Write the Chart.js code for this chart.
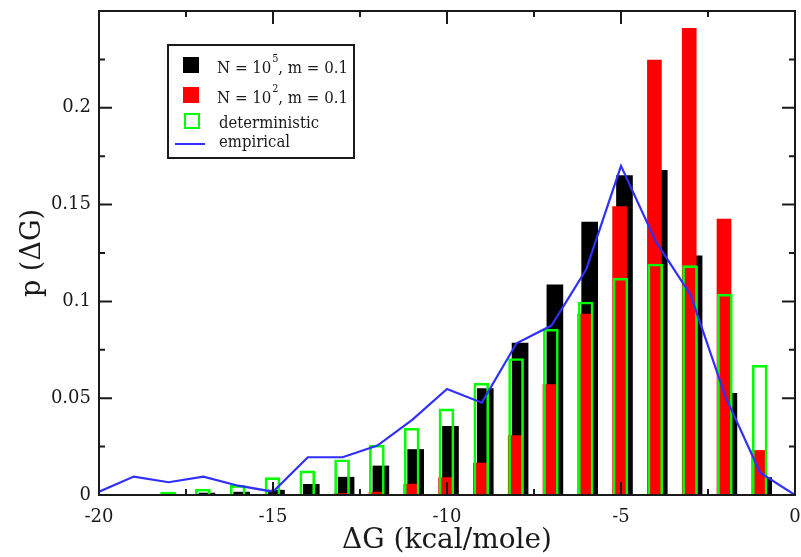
<!DOCTYPE html>
<html>
<head>
<meta charset="utf-8">
<script src="https://cdn.jsdelivr.net/npm/chart.js@4.4.1/dist/chart.umd.min.js"></script>
<style>
  html, body { margin: 0; padding: 0; background: #ffffff; }
  #wrap { width: 801px; height: 557px; }
</style>
</head>
<body>
<div id="wrap"><canvas id="c" width="801" height="557"></canvas></div>
<script>
// ---------------- data ----------------
const binCenters = [-18, -17, -16, -15, -14, -13, -12, -11, -10, -9, -8, -7, -6, -5, -4, -3, -2, -1];
const stochasticN5 = [0, 0.001, 0.0015, 0.0025, 0.0055, 0.0092, 0.015, 0.0235, 0.0355, 0.055, 0.0785, 0.1085, 0.141, 0.165, 0.1677, 0.1235, 0.0525, 0.009];
const stochasticN2 = [0, 0, 0, 0, 0, 0.0008, 0.0015, 0.0056, 0.009, 0.0165, 0.0307, 0.057, 0.0935, 0.149, 0.2247, 0.241, 0.1425, 0.023];
const deterministic = [0.0015, 0.003, 0.005, 0.009, 0.0125, 0.0182, 0.0258, 0.0345, 0.0445, 0.0578, 0.0705, 0.0857, 0.0997, 0.112, 0.1193, 0.1185, 0.1037, 0.067];
const empiricalX = [-20, -19, -18, -17, -16, -15, -14, -13, -12, -11, -10, -9, -8, -7, -6, -5, -4, -3, -2, -1, 0];
const empiricalY = [0.0017, 0.0095, 0.0066, 0.0095, 0.0048, 0.0017, 0.0195, 0.0195, 0.0255, 0.0388, 0.0548, 0.0477, 0.0784, 0.0875, 0.1165, 0.170, 0.131, 0.1033, 0.0508, 0.0115, 0];
const xTickValues = [-20, -15, -10, -5, 0];
const yTickValues = [0, 0.05, 0.1, 0.15, 0.2];
const yTickLabels = ['0', '0.05', '0.1', '0.15', '0.2'];
const seriesNames = ['N = 10^5, m = 0.1', 'N = 10^2, m = 0.1', 'deterministic', 'empirical'];
const xTitle = 'ΔG (kcal/mole)';
const yTitle = 'p (ΔG)';

// ---------------- styling ----------------
const FONT = 'DejaVu Serif';
const INK = '#1a1a1a';
const COL_BLACK = '#000000', COL_RED = '#ff0000', COL_GREEN = '#00ff00', COL_BLUE = '#2f2fff';

function pts(xs, ys, shift) { return xs.map((x, i) => ({ x: x + (shift || 0), y: ys[i] })); }
function noEdgePadding(s) { s.paddingLeft = 0; s.paddingRight = 0; s.paddingTop = 0; s.paddingBottom = 0; }

// frame + inward major/minor ticks on all four sides
const framePlugin = {
  id: 'frame',
  afterDraw(chart) {
    const { ctx, chartArea: a, scales: { x, y } } = chart;
    ctx.save();
    ctx.strokeStyle = INK;
    ctx.lineWidth = 2;
    ctx.strokeRect(a.left, a.top, a.right - a.left, a.bottom - a.top);
    const MAJ = 13, MIN = 6;
    ctx.beginPath();
    for (let k = 0; k <= 8; k++) {
      const v = x.min + k * 2.5;
      const px = x.getPixelForValue(v);
      const L = (k % 2 === 0) ? MAJ : MIN;
      ctx.moveTo(px, a.bottom); ctx.lineTo(px, a.bottom - L);
      ctx.moveTo(px, a.top); ctx.lineTo(px, a.top + L);
    }
    for (let k = 0; k <= 10; k++) {
      const v = y.min + k * 0.025;
      const py = y.getPixelForValue(v);
      const L = (k % 2 === 0) ? MAJ : MIN;
      ctx.moveTo(a.left, py); ctx.lineTo(a.left + L, py);
      ctx.moveTo(a.right, py); ctx.lineTo(a.right - L, py);
    }
    ctx.stroke();
    ctx.restore();
  }
};

// boxed legend inside the plot
const boxLegendPlugin = {
  id: 'boxLegend',
  afterDraw(chart) {
    const { ctx, chartArea: a } = chart;
    const bx = a.left + 69, by = a.top + 34, bw = 186, bh = 113;
    ctx.save();
    ctx.fillStyle = '#ffffff';
    ctx.fillRect(bx, by, bw, bh);
    ctx.strokeStyle = INK;
    ctx.lineWidth = 2;
    ctx.strokeRect(bx, by, bw, bh);

    const ds = chart.data.datasets;
    ctx.fillStyle = ds[0].backgroundColor;
    ctx.fillRect(bx + 15, by + 12, 16, 16);
    ctx.fillStyle = ds[1].backgroundColor;
    ctx.fillRect(bx + 15, by + 42, 16, 16);
    ctx.strokeStyle = ds[2].borderColor;
    ctx.lineWidth = 2;
    ctx.strokeRect(bx + 17, by + 69, 14, 14);
    ctx.strokeStyle = ds[3].borderColor;
    ctx.lineWidth = 2;
    ctx.beginPath();
    ctx.moveTo(bx + 7, by + 99); ctx.lineTo(bx + 37, by + 99);
    ctx.stroke();

    ctx.fillStyle = INK;
    ctx.textBaseline = 'alphabetic';
    ctx.textAlign = 'left';
    const big = '17px "' + FONT + '"', small = '11px "' + FONT + '"';
    function powerLabel(label, x0, base, target) {
      const m = label.match(/^(.*?)\^(\d+)(.*)$/);
      ctx.font = big; const w1 = ctx.measureText(m[1]).width; const w3 = ctx.measureText(m[3]).width;
      ctx.font = small; const w2 = ctx.measureText(m[2]).width;
      const sx = target / (w1 + w2 + w3 + 1);
      ctx.save();
      ctx.translate(x0, base); ctx.scale(sx, 1);
      ctx.font = big; ctx.fillText(m[1], 0, 0);
      ctx.font = small; ctx.fillText(m[2], w1 + 1, -11);
      ctx.font = big; ctx.fillText(m[3], w1 + w2 + 1, 0);
      ctx.restore();
    }
    function plainLabel(label, x0, base, target) {
      ctx.font = big;
      const w = ctx.measureText(label).width;
      ctx.save();
      ctx.translate(x0, base); ctx.scale(target / w, 1);
      ctx.fillText(label, 0, 0);
      ctx.restore();
    }
    powerLabel(ds[0].label, bx + 49, by + 28, 131);
    powerLabel(ds[1].label, bx + 49, by + 58, 131);
    plainLabel(ds[2].label, bx + 51, by + 83, 100);
    plainLabel(ds[3].label, bx + 51, by + 102, 71);
    ctx.restore();
  }
};

Chart.defaults.font.family = FONT;
Chart.defaults.color = INK;

new Chart(document.getElementById('c'), {
  type: 'bar',
  data: {
    datasets: [
      { type: 'bar', label: seriesNames[0], data: pts(binCenters, stochasticN5, 0.1),
        backgroundColor: COL_BLACK, borderWidth: 0, barThickness: 16, grouped: false, order: 4 },
      { type: 'bar', label: seriesNames[1], data: pts(binCenters, stochasticN2, -0.04),
        backgroundColor: COL_RED, borderWidth: 0, barThickness: 14, grouped: false, order: 3 },
      { type: 'bar', label: seriesNames[2], data: pts(binCenters, deterministic, -0.015),
        backgroundColor: 'rgba(0,0,0,0)', borderColor: COL_GREEN, borderWidth: 2,
        barThickness: 15, grouped: false, order: 2 },
      { type: 'line', label: seriesNames[3], data: pts(empiricalX, empiricalY),
        borderColor: COL_BLUE, backgroundColor: COL_BLUE, borderWidth: 2.2, pointRadius: 0,
        tension: 0, fill: false, order: 1 }
    ]
  },
  options: {
    responsive: false,
    animation: false,
    devicePixelRatio: 1,
    layout: { padding: { left: 0, right: 6, top: 11, bottom: 0 } },
    plugins: { legend: { display: false }, tooltip: { enabled: false } },
    scales: {
      x: {
        type: 'linear', min: -20, max: 0, offset: false,
        grid: { display: false, drawTicks: false }, border: { display: false },
        afterBuildTicks: (s) => { s.ticks = xTickValues.map(v => ({ value: v })); },
        afterFit: (s) => { s.height = 62; noEdgePadding(s); },
        ticks: { autoSkip: false, padding: 12, font: { size: 18 }, color: INK,
                 callback: (v) => String(v) },
        title: { display: true, text: xTitle, font: { size: 28, lineHeight: 1 }, color: INK,
                 padding: { top: 0, bottom: 2 } }
      },
      y: {
        type: 'linear', min: 0, max: 0.25,
        grid: { display: false, drawTicks: false }, border: { display: false },
        afterBuildTicks: (s) => { s.ticks = yTickValues.map(v => ({ value: v })); },
        afterFit: (s) => { s.width = 99; noEdgePadding(s); },
        ticks: { autoSkip: false, padding: 8, font: { size: 18 }, color: INK,
                 callback: (v) => { const i = yTickValues.indexOf(v); return i >= 0 ? yTickLabels[i] : ''; } },
        title: { display: true, text: yTitle, font: { size: 27, lineHeight: 1 }, color: INK,
                 padding: { top: 19, bottom: 0 } }
      }
    }
  },
  plugins: [framePlugin, boxLegendPlugin]
});
</script>
</body>
</html>
